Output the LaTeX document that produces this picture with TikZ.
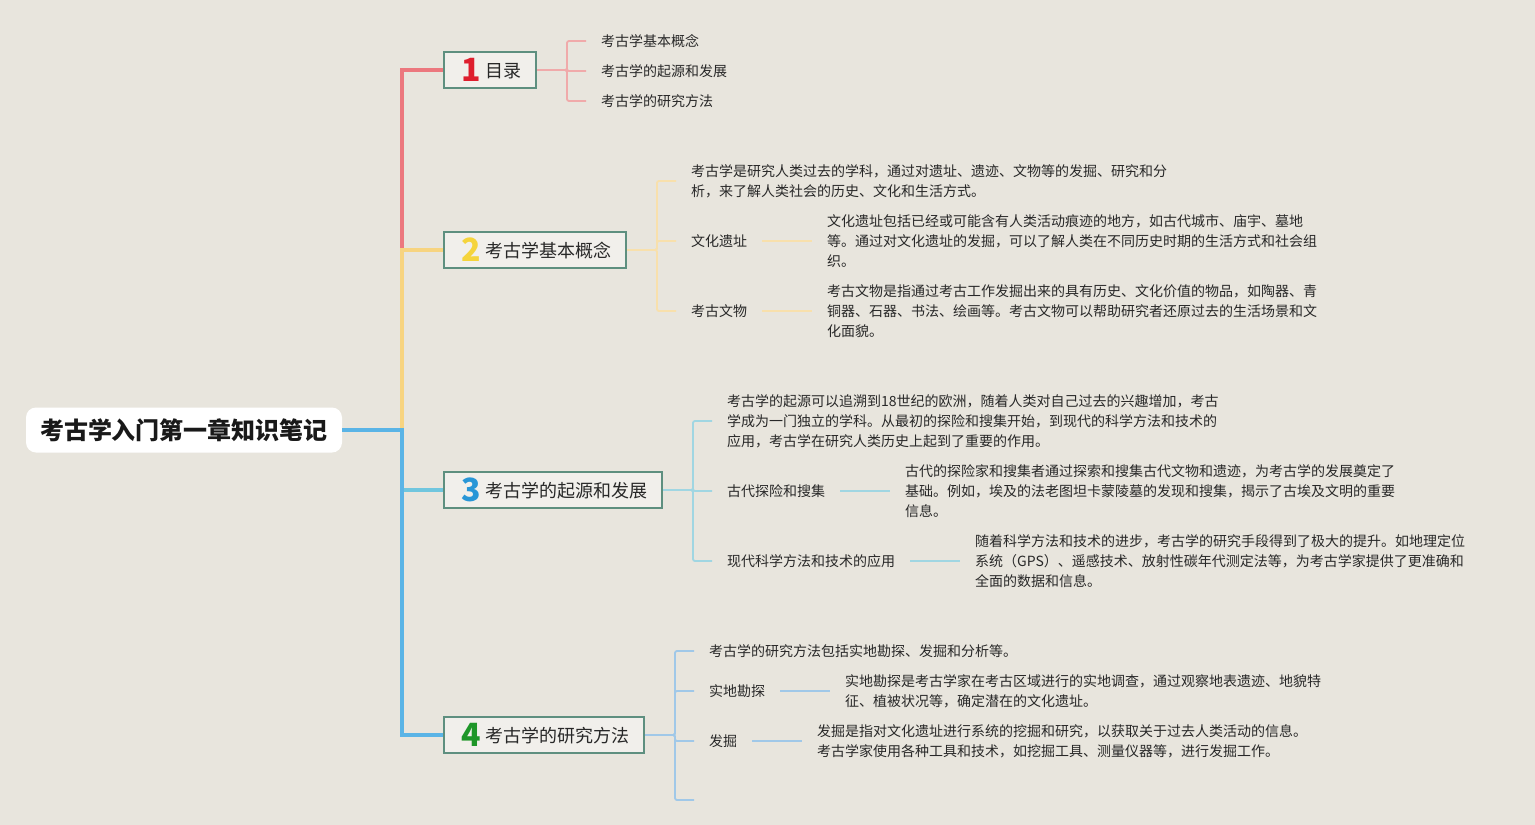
\documentclass[tikz,border=0pt]{standalone}
\usepackage{fontspec}
\setmainfont{Noto Sans CJK SC}
\definecolor{bg}{RGB}{232,229,221}
\definecolor{cA}{RGB}{236,120,126}
\definecolor{cAl}{RGB}{240,170,170}
\definecolor{cB}{RGB}{247,212,128}
\definecolor{cBl}{RGB}{248,224,172}
\definecolor{cC}{RGB}{112,198,222}
\definecolor{cCl}{RGB}{160,214,226}
\definecolor{cD}{RGB}{90,180,230}
\definecolor{cDl}{RGB}{160,200,232}
\definecolor{nA}{RGB}{222,30,45}
\definecolor{nB}{RGB}{245,212,60}
\definecolor{nC}{RGB}{40,150,215}
\definecolor{nD}{RGB}{30,150,40}
\definecolor{bord}{RGB}{94,143,127}
\definecolor{txt}{RGB}{40,40,40}
\tikzset{
  rootbox/.style={fill=white, rounded corners=10pt, minimum width=316pt, minimum height=45pt, inner sep=0pt, font=\fontsize{24}{24}\selectfont\bfseries, text=black!90},
  branchbox/.style={draw=bord, line width=2pt, fill=bg!60!white, anchor=west, inner xsep=15pt, inner ysep=0pt, minimum height=36pt, font=\fontsize{18}{18}\selectfont, text=txt},
  leaf/.style={anchor=west, inner xsep=15pt, inner ysep=2pt, align=left, font=\fontsize{14}{20}\selectfont, text=txt},
  trunk/.style={line width=4pt},
  twig/.style={line width=1.8pt, rounded corners=2pt},
}
\newcommand{\numtag}[2]{\makebox[24pt][c]{\raisebox{-4pt}{\fontsize{32}{32}\selectfont\bfseries\color{#1}#2}}\hspace{2pt}}
\begin{document}
\begin{tikzpicture}[x=1pt,y=-1pt]
\useasboundingbox (0,0) rectangle (1535,825);
\fill[bg] (0,0) rectangle (1535,825);

% root and branches
\node[rootbox] (root) at (184,430) {考古学入门第一章知识笔记};
\coordinate (hub) at (402,430);
\node[branchbox] (b1) at (443,70) {\numtag{nA}{1}目录};
\node[branchbox] (b2) at (443,250) {\numtag{nB}{2}考古学基本概念};
\node[branchbox] (b3) at (443,490) {\numtag{nC}{3}考古学的起源和发展};
\node[branchbox] (b4) at (443,735) {\numtag{nD}{4}考古学的研究方法};

% branch 1 leaves
\node[leaf] (l11) at (586,41) {考古学基本概念};
\node[leaf] (l12) at (586,71) {考古学的起源和发展};
\node[leaf] (l13) at (586,101) {考古学的研究方法};

% branch 2 leaves
\node[leaf] (l21) at (676,181) {考古学是研究人类过去的学科，通过对遗址、遗迹、文物等的发掘、研究和分\\析，来了解人类社会的历史、文化和生活方式。};
\node[leaf] (l22) at (676,241) {文化遗址};
\node[leaf] (d22) at (812,241) {文化遗址包括已经或可能含有人类活动痕迹的地方，如古代城市、庙宇、墓地\\等。通过对文化遗址的发掘，可以了解人类在不同历史时期的生活方式和社会组\\织。};
\node[leaf] (l23) at (676,311) {考古文物};
\node[leaf] (d23) at (812,311) {考古文物是指通过考古工作发掘出来的具有历史、文化价值的物品，如陶器、青\\铜器、石器、书法、绘画等。考古文物可以帮助研究者还原过去的生活场景和文\\化面貌。};

% branch 3 leaves
\node[leaf] (l31) at (712,421) {考古学的起源可以追溯到18世纪的欧洲，随着人类对自己过去的兴趣增加，考古\\学成为一门独立的学科。从最初的探险和搜集开始，到现代的科学方法和技术的\\应用，考古学在研究人类历史上起到了重要的作用。};
\node[leaf] (l32) at (712,491) {古代探险和搜集};
\node[leaf] (d32) at (890,491) {古代的探险家和搜集者通过探索和搜集古代文物和遗迹，为考古学的发展奠定了\\基础。例如，埃及的法老图坦卡蒙陵墓的发现和搜集，揭示了古埃及文明的重要\\信息。};
\node[leaf] (l33) at (712,561) {现代科学方法和技术的应用};
\node[leaf] (d33) at (960,561) {随着科学方法和技术的进步，考古学的研究手段得到了极大的提升。如地理定位\\系统（GPS）、遥感技术、放射性碳年代测定法等，为考古学家提供了更准确和\\全面的数据和信息。};

% branch 4 leaves
\node[leaf] (l41) at (694,651) {考古学的研究方法包括实地勘探、发掘和分析等。};
\node[leaf] (l42) at (694,691) {实地勘探};
\node[leaf] (d42) at (830,691) {实地勘探是考古学家在考古区域进行的实地调查，通过观察地表遗迹、地貌特\\征、植被状况等，确定潜在的文化遗址。};
\node[leaf] (l43) at (694,741) {发掘};
\node[leaf] (d43) at (802,741) {发掘是指对文化遗址进行系统的挖掘和研究，以获取关于过去人类活动的信息。\\考古学家使用各种工具和技术，如挖掘工具、测量仪器等，进行发掘工作。};
\coordinate (l44) at (694,800);

% trunk connectors
\draw[trunk,cA] (root.east) -- (hub) |- (b1.west);
\draw[trunk,cB] (root.east) -- (hub) |- (b2.west);
\draw[trunk,cC] (root.east) -- (hub) |- (b3.west);
\draw[trunk,cD] (root.east) -- (hub) |- (b4.west);

% branch 1 twigs
\foreach \t in {l11,l12,l13} \draw[twig,cAl] (b1.east) -- ++(30,0) |- (\t.west);
% branch 2 twigs
\foreach \t in {l21,l22,l23} \draw[twig,cBl] (b2.east) -- ++(30,0) |- (\t.west);
\draw[twig,cBl] (l22.east) -- (d22.west);
\draw[twig,cBl] (l23.east) -- (d23.west);
% branch 3 twigs
\foreach \t in {l31,l32,l33} \draw[twig,cCl] (b3.east) -- ++(30,0) |- (\t.west);
\draw[twig,cCl] (l32.east) -- (d32.west);
\draw[twig,cCl] (l33.east) -- (d33.west);
% branch 4 twigs
\foreach \t in {l41,l42,l43} \draw[twig,cDl] (b4.east) -- ++(30,0) |- (\t.west);
\draw[twig,cDl] (b4.east) -- ++(30,0) |- (l44);
\draw[twig,cDl] (l42.east) -- (d42.west);
\draw[twig,cDl] (l43.east) -- (d43.west);
\end{tikzpicture}
\end{document}
